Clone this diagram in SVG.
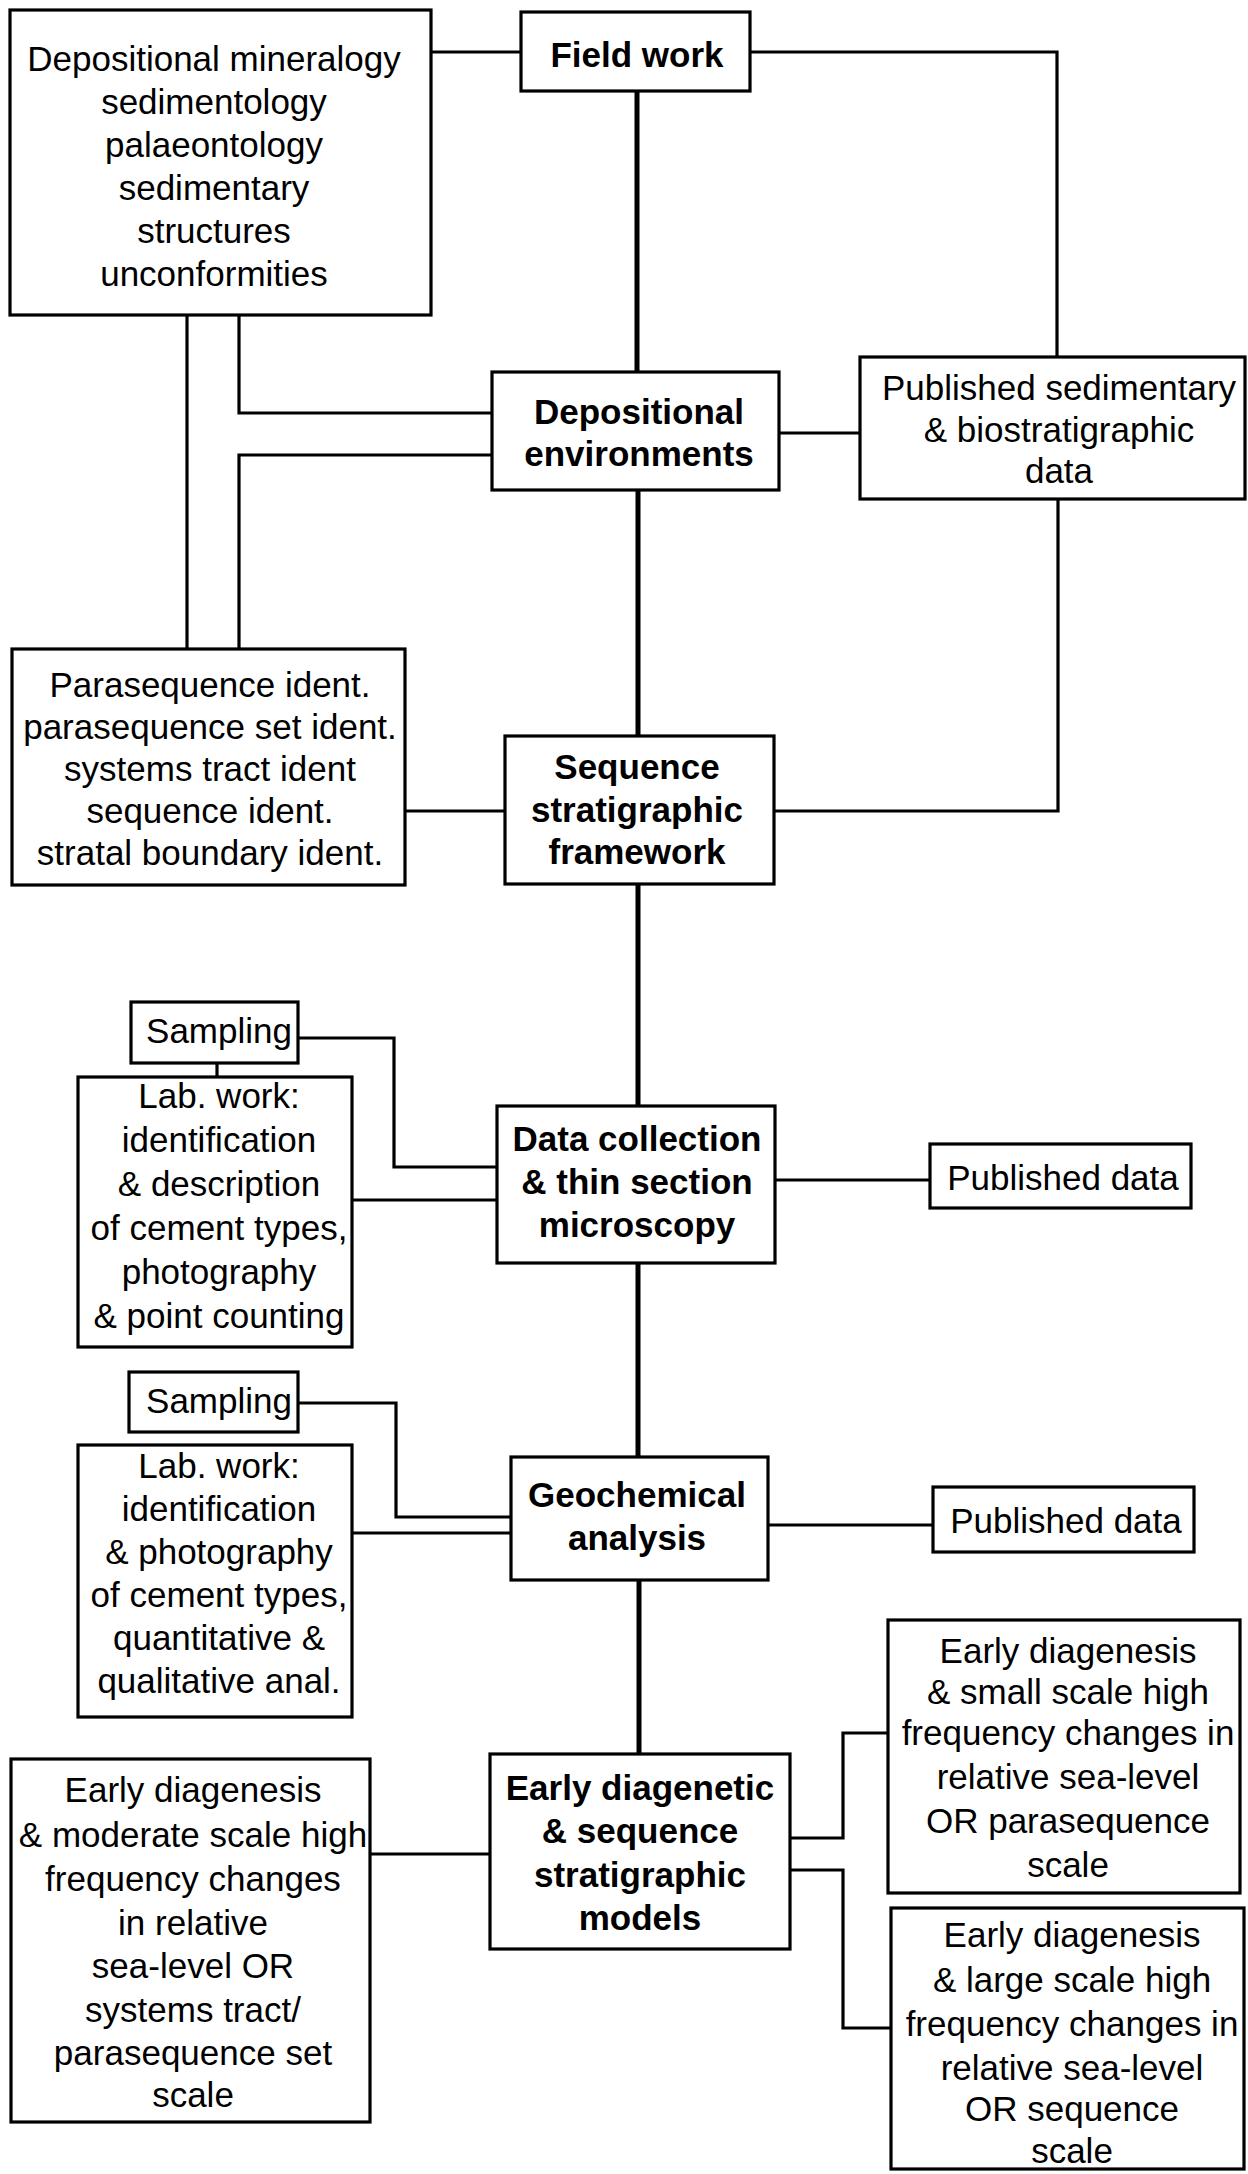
<svg xmlns="http://www.w3.org/2000/svg" width="1248" height="2174" viewBox="0 0 1248 2174">
<style>
.box{fill:#fff;stroke:#000;stroke-width:3.2}
.t{font-family:"Liberation Sans",Arial,Helvetica,sans-serif;font-size:35px;text-anchor:middle;fill:#000}
.b{font-weight:bold}
.c{fill:none;stroke:#000;stroke-width:3.2}
.s{fill:none;stroke:#000;stroke-width:5}
</style>
<rect width="1248" height="2174" fill="#fff"/>
<g id="connectors">
<path class="s" d="M637,91 V372 M638,490 V736 M638,884 V1106 M638,1263 V1457 M639,1580 V1754"/>
<path class="c" d="M431,52 H521"/>
<path class="c" d="M750,52 H1057 V357"/>
<path class="c" d="M779,433 H860"/>
<path class="c" d="M239,315 V413 H492"/>
<path class="c" d="M492,455 H239 V649"/>
<path class="c" d="M187,315 V649"/>
<path class="c" d="M405,811 H505"/>
<path class="c" d="M1058,499 V811 H774"/>
<path class="c" d="M217,1063 V1077"/>
<path class="c" d="M298,1038 H394 V1167 H497"/>
<path class="c" d="M352,1200 H497"/>
<path class="c" d="M775,1180 H930"/>
<path class="c" d="M298,1403 H396 V1517 H511"/>
<path class="c" d="M352,1533 H511"/>
<path class="c" d="M768,1525 H933"/>
<path class="c" d="M370,1854 H490"/>
<path class="c" d="M790,1838 H843 V1733 H888"/>
<path class="c" d="M790,1870 H843 V2028 H891"/>
</g>
<g id="depositional-mineralogy">
<rect class="box" x="10" y="10" width="421" height="305"/>
<text class="t" x="214" y="71">Depositional mineralogy</text>
<text class="t" x="214" y="114">sedimentology</text>
<text class="t" x="214" y="157">palaeontology</text>
<text class="t" x="214" y="200">sedimentary</text>
<text class="t" x="214" y="243">structures</text>
<text class="t" x="214" y="286">unconformities</text>
</g>
<g id="field-work">
<rect class="box" x="521" y="12" width="229" height="79"/>
<text class="t b" x="637" y="67">Field work</text>
</g>
<g id="depositional-environments">
<rect class="box" x="492" y="372" width="287" height="118"/>
<text class="t b" x="639" y="424">Depositional</text>
<text class="t b" x="639" y="466">environments</text>
</g>
<g id="published-sedimentary">
<rect class="box" x="860" y="357" width="385" height="142"/>
<text class="t" x="1059" y="400">Published sedimentary</text>
<text class="t" x="1059" y="442">&amp; biostratigraphic</text>
<text class="t" x="1059" y="483">data</text>
</g>
<g id="parasequence">
<rect class="box" x="12" y="649" width="393" height="236"/>
<text class="t" x="210" y="697">Parasequence ident.</text>
<text class="t" x="210" y="739">parasequence set ident.</text>
<text class="t" x="210" y="781">systems tract ident</text>
<text class="t" x="210" y="823">sequence ident.</text>
<text class="t" x="210" y="865">stratal boundary ident.</text>
</g>
<g id="sequence-framework">
<rect class="box" x="505" y="736" width="269" height="148"/>
<text class="t b" x="637" y="779">Sequence</text>
<text class="t b" x="637" y="822">stratigraphic</text>
<text class="t b" x="637" y="864">framework</text>
</g>
<g id="sampling-1">
<rect class="box" x="131" y="1002" width="167" height="61"/>
<text class="t" x="219" y="1043">Sampling</text>
</g>
<g id="lab-work-1">
<rect class="box" x="78" y="1077" width="274" height="270"/>
<text class="t" x="219" y="1108">Lab. work:</text>
<text class="t" x="219" y="1152">identification</text>
<text class="t" x="219" y="1196">&amp; description</text>
<text class="t" x="219" y="1240">of cement types,</text>
<text class="t" x="219" y="1284">photography</text>
<text class="t" x="219" y="1328">&amp; point counting</text>
</g>
<g id="data-collection">
<rect class="box" x="497" y="1106" width="278" height="157"/>
<text class="t b" x="637" y="1151">Data collection</text>
<text class="t b" x="637" y="1194">&amp; thin section</text>
<text class="t b" x="637" y="1237">microscopy</text>
</g>
<g id="published-data-1">
<rect class="box" x="930" y="1144" width="261" height="64"/>
<text class="t" x="1063" y="1190">Published data</text>
</g>
<g id="sampling-2">
<rect class="box" x="129" y="1372" width="169" height="60"/>
<text class="t" x="219" y="1413">Sampling</text>
</g>
<g id="lab-work-2">
<rect class="box" x="78" y="1445" width="274" height="272"/>
<text class="t" x="219" y="1478">Lab. work:</text>
<text class="t" x="219" y="1521">identification</text>
<text class="t" x="219" y="1564">&amp; photography</text>
<text class="t" x="219" y="1607">of cement types,</text>
<text class="t" x="219" y="1650">quantitative &amp;</text>
<text class="t" x="219" y="1693">qualitative anal.</text>
</g>
<g id="geochemical-analysis">
<rect class="box" x="511" y="1457" width="257" height="123"/>
<text class="t b" x="637" y="1507">Geochemical</text>
<text class="t b" x="637" y="1550">analysis</text>
</g>
<g id="published-data-2">
<rect class="box" x="933" y="1487" width="261" height="65"/>
<text class="t" x="1066" y="1533">Published data</text>
</g>
<g id="early-diagenetic-models">
<rect class="box" x="490" y="1754" width="300" height="195"/>
<text class="t b" x="640" y="1800">Early diagenetic</text>
<text class="t b" x="640" y="1843">&amp; sequence</text>
<text class="t b" x="640" y="1887">stratigraphic</text>
<text class="t b" x="640" y="1930">models</text>
</g>
<g id="moderate-scale">
<rect class="box" x="11" y="1759" width="359" height="363"/>
<text class="t" x="193" y="1802">Early diagenesis</text>
<text class="t" x="193" y="1847">&amp; moderate scale high</text>
<text class="t" x="193" y="1891">frequency changes</text>
<text class="t" x="193" y="1935">in relative</text>
<text class="t" x="193" y="1978">sea-level OR</text>
<text class="t" x="193" y="2022">systems tract/</text>
<text class="t" x="193" y="2065">parasequence set</text>
<text class="t" x="193" y="2107">scale</text>
</g>
<g id="small-scale">
<rect class="box" x="888" y="1620" width="352" height="273"/>
<text class="t" x="1068" y="1663">Early diagenesis</text>
<text class="t" x="1068" y="1704">&amp; small scale high</text>
<text class="t" x="1068" y="1745">frequency changes in</text>
<text class="t" x="1068" y="1789">relative sea-level</text>
<text class="t" x="1068" y="1833">OR parasequence</text>
<text class="t" x="1068" y="1877">scale</text>
</g>
<g id="large-scale">
<rect class="box" x="891" y="1908" width="353" height="261"/>
<text class="t" x="1072" y="1947">Early diagenesis</text>
<text class="t" x="1072" y="1992">&amp; large scale high</text>
<text class="t" x="1072" y="2036">frequency changes in</text>
<text class="t" x="1072" y="2080">relative sea-level</text>
<text class="t" x="1072" y="2121">OR sequence</text>
<text class="t" x="1072" y="2163">scale</text>
</g>
</svg>
